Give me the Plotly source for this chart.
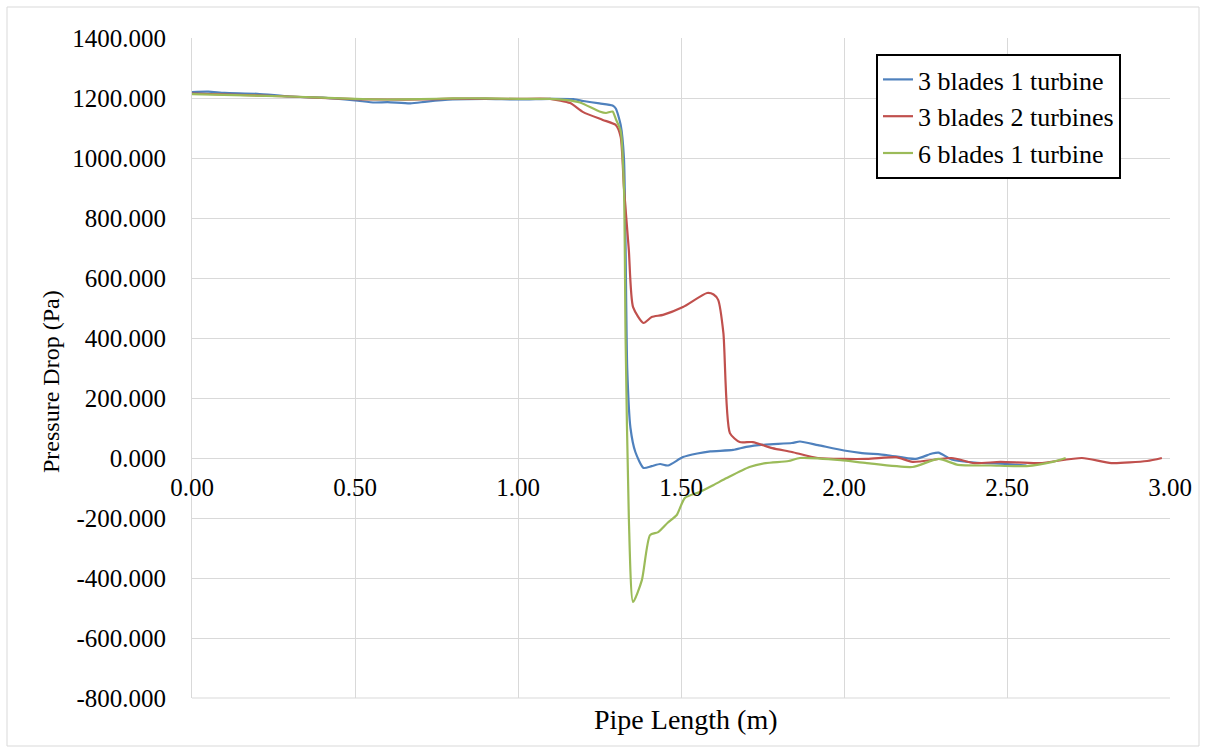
import plotly.graph_objects as go

# Data
x_blue = [0.0, 0.05, 0.1, 0.2, 0.3, 0.4, 0.5, 0.56, 0.6, 0.67, 0.72, 0.8, 0.9, 1.0, 1.1, 1.17, 1.2, 1.25, 1.29,
          1.30, 1.315, 1.325, 1.33, 1.335, 1.345, 1.36, 1.385, 1.41, 1.436, 1.46, 1.506, 1.55, 1.59, 1.66, 1.70,
          1.76, 1.84, 1.865, 1.92, 2.0, 2.05, 2.13, 2.22, 2.27, 2.29, 2.33, 2.4, 2.5, 2.56]
y_blue = [1220, 1221, 1217, 1214, 1205, 1201, 1192, 1185, 1186, 1182, 1188, 1195, 1197, 1195, 1197, 1196, 1190,
          1182, 1175, 1165, 1110, 1000, 700, 300, 100, 20, -33, -27, -20, -25, 3, 15, 22, 27, 37,
          45, 50, 55, 43, 25, 17, 10, -3, 15, 18, -5, -15, -20, -25]

x_red = [0.0, 0.3, 0.5, 0.6, 0.7, 0.8, 0.9, 1.0, 1.098, 1.16, 1.2, 1.26, 1.30, 1.315, 1.325, 1.34, 1.353, 1.385,
         1.41, 1.445, 1.506, 1.58, 1.6, 1.614, 1.63, 1.65, 1.68, 1.72, 1.78, 1.84, 1.92, 2.07, 2.16, 2.21, 2.33,
         2.40, 2.48, 2.6, 2.73, 2.82, 2.93, 2.975]
y_red = [1215, 1205, 1196, 1195, 1195, 1198, 1198, 1197, 1197, 1183, 1153, 1127, 1110, 1070, 900, 693, 503, 450,
         470, 477, 503, 550, 545, 527, 417, 83, 53, 53, 33, 20, 0, -3, 3, -13, 0,
         -17, -13, -17, 0, -17, -10, 0]

x_green = [0.0, 0.3, 0.5, 0.6, 0.7, 0.8, 0.9, 1.0, 1.1, 1.15, 1.19, 1.25, 1.27, 1.29, 1.30, 1.315, 1.325, 1.33,
           1.34, 1.353, 1.38, 1.405, 1.43, 1.46, 1.487, 1.512, 1.558, 1.6, 1.64, 1.71, 1.76, 1.83, 1.865, 1.99,
           2.07, 2.21, 2.29, 2.35, 2.45, 2.56, 2.64, 2.68]
y_green = [1213, 1205, 1197, 1195, 1196, 1199, 1199, 1197, 1197, 1193, 1185, 1155, 1150, 1155, 1130, 1090, 900, 400,
           -200, -480, -407, -257, -247, -215, -190, -133, -113, -90, -67, -30, -17, -10, 0, -7,
           -17, -30, -3, -23, -25, -27, -13, 0]

series_names = ["3 blades 1 turbine", "3 blades 2 turbines", "6 blades 1 turbine"]
colors = ["#4F81BD", "#C0504D", "#9BBB59"]

x_ticks = [0.0, 0.5, 1.0, 1.5, 2.0, 2.5, 3.0]
y_ticks = [-800, -600, -400, -200, 0, 200, 400, 600, 800, 1000, 1200, 1400]
x_ticktext = ["%.2f" % v for v in x_ticks]
y_ticktext = ["%.3f" % v for v in y_ticks]

FONT = "Liberation Serif, Times New Roman, serif"

fig = go.Figure()
for name, xs, ys, c in zip(series_names, [x_blue, x_red, x_green], [y_blue, y_red, y_green], colors):
    fig.add_trace(go.Scatter(x=xs, y=ys, mode="lines", name=name, legendgroup=name,
                             line=dict(color=c, width=2.2, shape="spline", smoothing=0.6)))

W, H = 1206, 747
ml, mr, mt, mb = 192, 36, 38, 49
pw = W - ml - mr
ph = H - mt - mb

def px_x(p):
    return (p - ml) / pw

def px_y(p):
    return (H - mb - p) / ph

fig.update_layout(
    width=W, height=H,
    margin=dict(l=ml, r=mr, t=mt, b=mb),
    paper_bgcolor="white", plot_bgcolor="white",
    font=dict(family=FONT, color="#000000", size=24),
    xaxis=dict(range=[0, 3], tickvals=x_ticks, ticktext=x_ticktext, showgrid=True, gridcolor="#D9D9D9",
               gridwidth=1, zeroline=False, showline=False, ticks="", anchor="free",
               position=800 / 2200, ticklabelstandoff=12,
               tickfont=dict(family=FONT, size=25, color="#000")),
    yaxis=dict(range=[-800, 1400], tickvals=y_ticks, ticktext=y_ticktext, showgrid=True, gridcolor="#D9D9D9",
               gridwidth=1, zeroline=True, zerolinecolor="#D9D9D9", zerolinewidth=1, showline=True,
               linecolor="#D9D9D9", linewidth=1, ticks="", ticklabelstandoff=20,
               tickfont=dict(family=FONT, size=25, color="#000")),
    legend=dict(x=px_x(876), y=px_y(54), xanchor="left", yanchor="top", bgcolor="white",
                bordercolor="#000000", borderwidth=2, font=dict(family=FONT, size=26),
                traceorder="grouped", tracegroupgap=0, itemwidth=30, entrywidth=255,
                entrywidthmode="pixels"),
    showlegend=True,
)

# axis titles placed as in the reference
fig.add_annotation(text="Pipe Length (m)", xref="paper", yref="paper", x=px_x(686), y=px_y(719),
                   showarrow=False, font=dict(family=FONT, size=28), xanchor="center", yanchor="middle")
fig.add_annotation(text="Pressure Drop (Pa)", xref="paper", yref="paper", x=px_x(51), y=px_y(382),
                   showarrow=False, textangle=-90, font=dict(family=FONT, size=24),
                   xanchor="center", yanchor="middle")

# bottom axis line of plot area and outer chart frame
fig.add_shape(type="line", xref="paper", yref="paper", x0=0, x1=1, y0=0, y1=0,
              line=dict(color="#D9D9D9", width=1))
fig.add_shape(type="rect", xref="paper", yref="paper", x0=px_x(7), x1=px_x(1199), y0=px_y(746), y1=px_y(7),
              line=dict(color="#D9D9D9", width=1), layer="below")

fig.write_html("out.html")
